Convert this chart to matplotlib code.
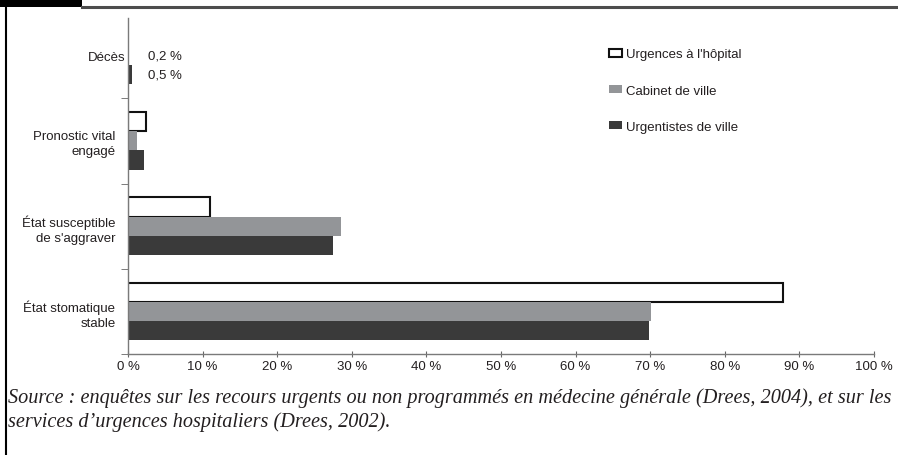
import numpy as np
import matplotlib
matplotlib.use("Agg")
import matplotlib.pyplot as plt
from matplotlib.patches import Patch, Rectangle
from matplotlib.lines import Line2D
from matplotlib.transforms import ScaledTranslation

# données (en %)
categories = ["Décès", "Pronostic vital\nengagé", "État susceptible\nde s'aggraver",
              "État stomatique\nstable"]
series = ["Urgences à l'hôpital", "Cabinet de ville", "Urgentistes de ville"]
hopital = [np.nan, 2.4, 11.0, 87.8]
cabinet = [0.2, 1.2, 28.5, 70.1]
urgentistes = [0.5, 2.1, 27.5, 69.9]
deces_labels = ["0,2 %", "0,5 %"]
xticks = list(range(0, 101, 10))
xlabels = [f"{v} %" for v in xticks]
source = ("Source : enquêtes sur les recours urgents ou non programmés en médecine générale "
          "(Drees, 2004), et sur les",
          "services d\u2019urgences hospitaliers (Drees, 2002).")

TXT = "#231f20"
GRIS = "#939598"
FONCE = "#3a3a3a"
FS = 9.5
plt.rcParams["font.family"] = ["Liberation Sans", "DejaVu Sans"]

fig = plt.figure(figsize=(8.98, 4.56), dpi=100)
ax = fig.add_axes([0.1425, 0.2215, 0.8308, 0.7365])

y = np.arange(len(categories))
h = 0.225
ax.barh(y - h, hopital, height=h, color="white", edgecolor="#111111", linewidth=1.5,
        label=series[0])
ax.barh(y, cabinet, height=h, color=GRIS, linewidth=0, label=series[1])
ax.barh(y + h, urgentistes, height=h, color=FONCE, linewidth=0, label=series[2])

for yy, lab in zip([y[0], y[0] + h], deces_labels):
    ax.annotate(lab, xy=(0, yy), xytext=(14.4, 0), textcoords="offset points",
                va="center", ha="left", fontsize=FS, color=TXT)

ax.set_xlim(0, 100)
ax.set_ylim(len(categories) - 0.5, -0.44)
ax.set_xticks(xticks)
ax.set_xticklabels(xlabels, fontsize=FS, color=TXT)
ax.set_yticks(y)
ax.set_yticklabels(categories, fontsize=FS, color=TXT, ha="right", multialignment="right",
                   linespacing=1.3)
ax.set_yticks(np.arange(len(categories)) + 0.5, minor=True)
ax.tick_params(axis="y", which="major", length=0, pad=9)
ax.tick_params(axis="y", which="minor", length=5, color="#666666", direction="out")
ax.tick_params(axis="x", length=4, direction="inout", color="#666666", pad=2)
# "Décès" collé à l'axe
lab0 = ax.get_yticklabels()[0]
lab0.set_transform(lab0.get_transform() + ScaledTranslation(7 / 72, 0, fig.dpi_scale_trans))

for s in ["top", "right"]:
    ax.spines[s].set_visible(False)
for s in ["left", "bottom"]:
    ax.spines[s].set_color("#7a7a7a")
    ax.spines[s].set_linewidth(1.0)

handles = [Patch(facecolor="white", edgecolor="#111111", linewidth=1.5),
           Patch(facecolor=GRIS), Patch(facecolor=FONCE)]
ax.legend(handles, series, loc="upper left", bbox_to_anchor=(0.636, 0.93), frameon=False,
          fontsize=FS, handlelength=1.0, handleheight=0.55, handletextpad=0.3,
          labelspacing=1.85, borderpad=0, labelcolor=TXT)

# cadre de la page
fig.patches.append(Rectangle((0, 1 - 8 / 456), 82 / 898, 8 / 456, transform=fig.transFigure,
                             facecolor="black", edgecolor="none"))
fig.lines.append(Line2D([82 / 898, 1], [1 - 7.5 / 456] * 2, transform=fig.transFigure,
                        color="#4d4d4d", linewidth=2.2))
fig.lines.append(Line2D([5.5 / 898] * 2, [0, 1 - 7 / 456], transform=fig.transFigure,
                        color="black", linewidth=1.5))

fig.text(8 / 898, 1 - 398 / 456, source[0], family=["Liberation Serif"], style="italic",
         fontsize=14.6, color=TXT, va="center", ha="left")
fig.text(8 / 898, 1 - 422 / 456, source[1], family=["Liberation Serif"], style="italic",
         fontsize=14.6, color=TXT, va="center", ha="left")

fig.savefig("out.png", dpi=100)
